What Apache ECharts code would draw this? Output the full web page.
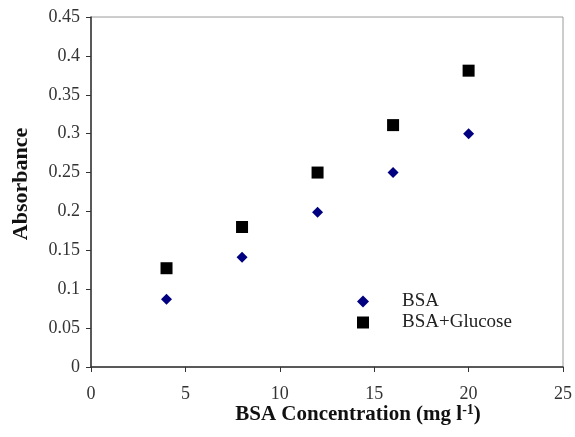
<!DOCTYPE html>
<html>
<head>
<meta charset="utf-8">
<script src="https://cdn.jsdelivr.net/npm/echarts@6/dist/echarts.min.js"></script>
<style>
html,body{margin:0;padding:0;background:#fff;}
#chart{width:575px;height:437px;}
</style>
</head>
<body>
<div id="chart"></div>
<script>
var concX = [4, 8, 12, 16, 20];
var bsaY = [0.087, 0.141, 0.199, 0.25, 0.30];
var bsaGlucoseY = [0.127, 0.180, 0.250, 0.311, 0.381];
var seriesNames = ['BSA', 'BSA+Glucose'];

function pairs(xs, ys){
	var out = [];
	for (var i = 0; i < xs.length; i++) {
		out.push([xs[i], ys[i]]);
	}
	return out;
}

var font = 'Liberation Serif';
var chart = echarts.init(document.getElementById('chart'));
var option = {
	animation: false,
	grid: {
		left: 91, right: 8, top: 17, bottom: 70,
		show: true, borderColor: '#9a9a9a', borderWidth: 1
	},
	legend: {
		orient: 'vertical',
		left: 352, top: 287,
		itemGap: 2,
		itemWidth: 12, itemHeight: 12,
		textStyle: {fontFamily: font, fontSize: 19, color: '#222', padding: [0, 0, 0, 28]},
		data: [
			{name: seriesNames[0], icon: 'diamond'},
			{name: seriesNames[1], icon: 'rect'}
		]
	},
	xAxis: {
		type: 'value',
		min: 0, max: 25, interval: 5,
		name: 'BSA Concentration (mg l{sup|-1})',
		nameLocation: 'middle',
		nameGap: 36,
		nameMoveOverlap: false,
		nameTextStyle: {
			fontFamily: font, fontSize: 21, fontWeight: 'bold', color: '#111',
			padding: [0, 0, 0, 62],
			rich: {sup: {fontFamily: font, fontSize: 14, fontWeight: 'bold', color: '#111', verticalAlign: 'top', padding: [0, 0, 9, 0]}}
		},
		axisLine: {lineStyle: {color: '#333', width: 1.5}},
		axisTick: {show: true, inside: false, length: 5, lineStyle: {color: '#333'}},
		axisLabel: {fontFamily: font, fontSize: 18, color: '#333', margin: 18},
		splitLine: {show: false}
	},
	yAxis: {
		type: 'value',
		min: 0, max: 0.45, interval: 0.05,
		name: 'Absorbance',
		nameLocation: 'middle',
		nameGap: 59,
		nameMoveOverlap: false,
		nameTextStyle: {fontFamily: font, fontSize: 22, fontWeight: 'bold', color: '#111', padding: [0, 0, 0, 16]},
		axisLine: {show: true, lineStyle: {color: '#333', width: 1.5}},
		axisTick: {show: true, inside: false, length: 5, lineStyle: {color: '#333'}},
		axisLabel: {fontFamily: font, fontSize: 18, color: '#333', margin: 11},
		splitLine: {show: false}
	},
	series: [
		{
			name: seriesNames[0],
			type: 'scatter',
			symbol: 'diamond',
			symbolSize: 11,
			itemStyle: {color: '#000080', opacity: 1},
			data: pairs(concX, bsaY)
		},
		{
			name: seriesNames[1],
			type: 'scatter',
			symbol: 'rect',
			symbolSize: 12,
			itemStyle: {color: '#000', opacity: 1},
			data: pairs(concX, bsaGlucoseY)
		}
	]
};
chart.setOption(option);
</script>
</body>
</html>
